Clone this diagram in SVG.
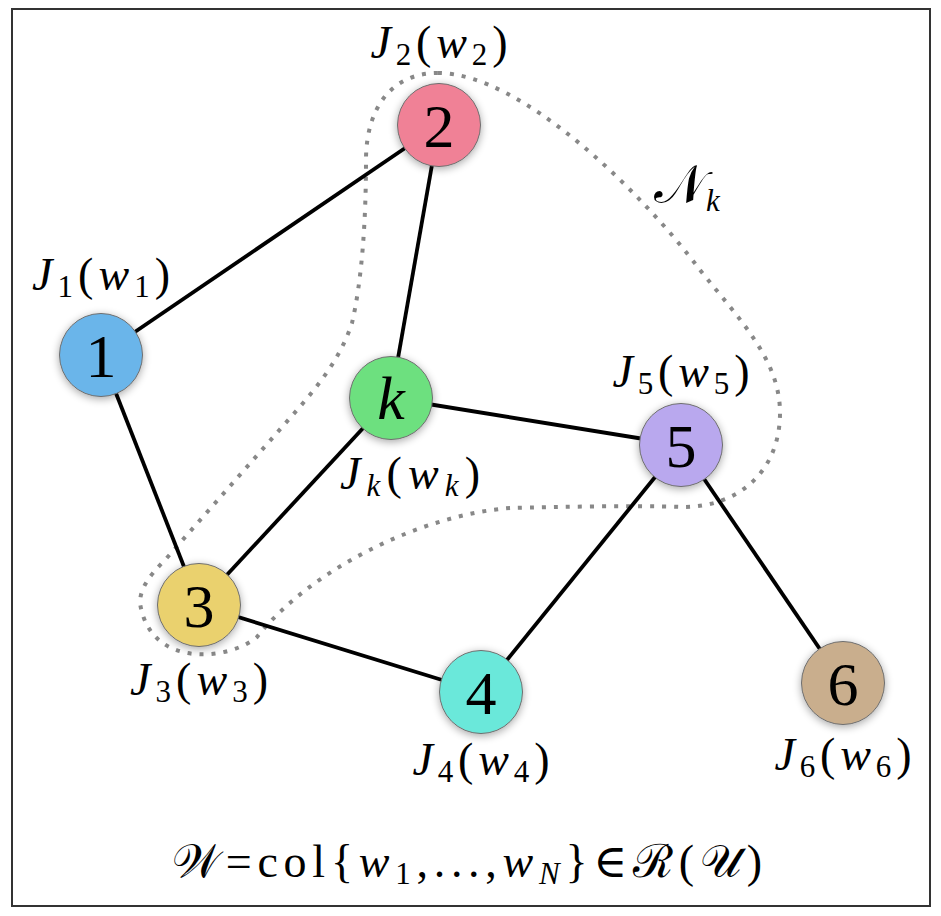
<svg xmlns="http://www.w3.org/2000/svg" width="941" height="916" viewBox="0 0 941 916">
<defs>
<filter id="sh" x="-40%" y="-40%" width="180%" height="180%">
<feGaussianBlur in="SourceAlpha" stdDeviation="4"/>
<feOffset dx="0" dy="2" result="b"/>
<feComponentTransfer><feFuncA type="linear" slope="0.35"/></feComponentTransfer>
<feMerge><feMergeNode/><feMergeNode in="SourceGraphic"/></feMerge>
</filter>
<style>
.node{stroke:#6e6e6e;stroke-width:1;filter:url(#sh)}
.num{font-family:"Liberation Serif","DejaVu Serif",serif;font-size:62px;text-anchor:middle;fill:#000}
.lbl{font-family:"Liberation Serif","DejaVu Serif",serif;font-size:46px;text-anchor:middle;fill:#000}
.it{font-style:italic}
.sub{font-size:31px}
.edge{stroke:#000;stroke-width:3.8;fill:none}
.hood{stroke:#888;stroke-width:4;fill:none;stroke-dasharray:4 8}
</style>
</defs>
<rect x="12" y="9" width="918" height="897" fill="#fff" stroke="#333" stroke-width="2"/>
<path class="hood" d="M438,73 C520,73 640,190 700,270 C740,320 780,360 780,413 C780,470 740,507 683,507 C630,505 560,507 510,508 C420,515 310,570 257,637 C230,660 150,670 140,603 C140,588 150,575 165,560 L290,418 C315,390 340,360 352,323 C362,280 366,220 366,160 C366,110 390,73 438,73 Z"/>
<g id="connectors">
<line class="edge" x1="101" y1="355" x2="439" y2="125"/>
<line class="edge" x1="101" y1="355" x2="199" y2="605"/>
<line class="edge" x1="439" y1="125" x2="391" y2="398"/>
<line class="edge" x1="391" y1="398" x2="681" y2="445"/>
<line class="edge" x1="391" y1="398" x2="199" y2="605"/>
<line class="edge" x1="199" y1="605" x2="481" y2="692"/>
<line class="edge" x1="481" y1="692" x2="681" y2="445"/>
<line class="edge" x1="681" y1="445" x2="843" y2="683"/>
</g>
<g id="node1">
<circle class="node" cx="101" cy="355" r="41.5" fill="#6BB5EA"/>
<text class="num" x="101" y="377">1</text>
<text class="lbl" x="101" y="290" textLength="138" lengthAdjust="spacing"><tspan class="it">J</tspan><tspan class="sub" dy="7">1</tspan><tspan dy="-7">(</tspan><tspan class="it">w</tspan><tspan class="sub" dy="7">1</tspan><tspan dy="-7">)</tspan></text>
</g>
<g id="node2">
<circle class="node" cx="439" cy="125" r="41.5" fill="#F08196"/>
<text class="num" x="439" y="147">2</text>
<text class="lbl" x="439" y="58" textLength="137" lengthAdjust="spacing"><tspan class="it">J</tspan><tspan class="sub" dy="7">2</tspan><tspan dy="-7">(</tspan><tspan class="it">w</tspan><tspan class="sub" dy="7">2</tspan><tspan dy="-7">)</tspan></text>
</g>
<g id="nodek">
<circle class="node" cx="391" cy="398" r="41.5" fill="#6DE07F"/>
<text class="num it" x="391" y="419">k</text>
<text class="lbl" x="410" y="489" textLength="140" lengthAdjust="spacing"><tspan class="it">J</tspan><tspan class="sub it" dy="7">k</tspan><tspan dy="-7">(</tspan><tspan class="it">w</tspan><tspan class="sub it" dy="7">k</tspan><tspan dy="-7">)</tspan></text>
</g>
<g id="node5">
<circle class="node" cx="681" cy="445" r="41.5" fill="#B9A8EE"/>
<text class="num" x="681" y="467">5</text>
<text class="lbl" x="681" y="387" textLength="137" lengthAdjust="spacing"><tspan class="it">J</tspan><tspan class="sub" dy="7">5</tspan><tspan dy="-7">(</tspan><tspan class="it">w</tspan><tspan class="sub" dy="7">5</tspan><tspan dy="-7">)</tspan></text>
</g>
<g id="node3">
<circle class="node" cx="199" cy="605" r="41.5" fill="#EAD16E"/>
<text class="num" x="199" y="627">3</text>
<text class="lbl" x="199" y="695" textLength="138" lengthAdjust="spacing"><tspan class="it">J</tspan><tspan class="sub" dy="7">3</tspan><tspan dy="-7">(</tspan><tspan class="it">w</tspan><tspan class="sub" dy="7">3</tspan><tspan dy="-7">)</tspan></text>
</g>
<g id="node4">
<circle class="node" cx="481" cy="692" r="41.5" fill="#6BE8DA"/>
<text class="num" x="481" y="714">4</text>
<text class="lbl" x="481" y="775" textLength="137" lengthAdjust="spacing"><tspan class="it">J</tspan><tspan class="sub" dy="7">4</tspan><tspan dy="-7">(</tspan><tspan class="it">w</tspan><tspan class="sub" dy="7">4</tspan><tspan dy="-7">)</tspan></text>
</g>
<g id="node6">
<circle class="node" cx="843" cy="683" r="41.5" fill="#C9AE8D"/>
<text class="num" x="843" y="705">6</text>
<text class="lbl" x="843" y="770" textLength="137" lengthAdjust="spacing"><tspan class="it">J</tspan><tspan class="sub" dy="7">6</tspan><tspan dy="-7">(</tspan><tspan class="it">w</tspan><tspan class="sub" dy="7">6</tspan><tspan dy="-7">)</tspan></text>
</g>
<text class="lbl" x="687" y="203" style="font-size:54px"><tspan>𝒩</tspan><tspan class="sub it" dy="8">k</tspan></text>
<text class="lbl" x="467" y="877" textLength="590" lengthAdjust="spacing"><tspan>𝒲</tspan><tspan>=</tspan><tspan>col{</tspan><tspan class="it">w</tspan><tspan class="sub" dy="7">1</tspan><tspan dy="-7">,...,</tspan><tspan class="it">w</tspan><tspan class="sub it" dy="7">N</tspan><tspan dy="-7">}</tspan><tspan>∈</tspan><tspan>ℛ</tspan><tspan>(</tspan><tspan>𝒰</tspan><tspan>)</tspan></text>
</svg>
